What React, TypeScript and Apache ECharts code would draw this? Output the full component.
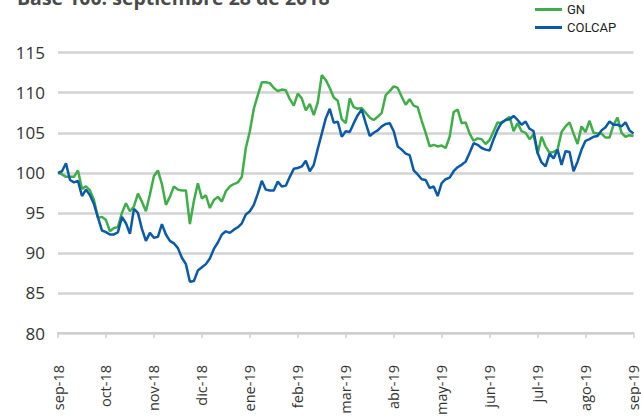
import React, { useEffect, useRef } from "react";
import * as echarts from "echarts";

const monthLabels = ["sep-18", "oct-18", "nov-18", "dic-18", "ene-19", "feb-19", "mar-19", "abr-19", "may-19", "jun-19", "jul-19", "ago-19", "sep-19"];
const pointsPerMonth = 12;

const gnValues = [
  100, 99.8, 99.5, 99.5, 99.5, 100.3, 98.0, 98.3, 97.8, 96.6,
  94.4, 94.5, 94.1, 92.7, 93.1, 93.25, 95.0, 96.2, 95.2, 95.8,
  97.4, 96.4, 95.2, 97.3, 99.6, 100.3, 98.6, 96.0, 97.0, 98.3,
  97.9, 97.8, 97.8, 93.6, 96.5, 98.7, 96.8, 97.2, 95.6, 96.6,
  97.0, 96.4, 97.7, 98.3, 98.6, 98.8, 99.5, 103.1, 105.2, 108.0,
  109.7, 111.3, 111.3, 111.2, 110.6, 110.2, 110.4, 110.3, 109.2, 108.4,
  109.9, 109.3, 107.8, 108.6, 107.2, 108.8, 112.2, 111.6, 110.6, 109.4,
  109.0, 106.7, 106.2, 109.3, 108.2, 108.0, 108.1, 107.5, 106.9, 106.6,
  107.0, 107.5, 109.7, 110.2, 110.8, 110.6, 109.5, 108.5, 109.2, 108.4,
  108.2, 106.5, 105.0, 103.3, 103.5, 103.3, 103.4, 103.1, 104.5, 107.6,
  107.9, 106.2, 106.3, 104.9, 104.0, 104.3, 104.2, 103.6, 104.1, 105.2,
  106.3, 106.2, 106.6, 107.0, 105.2, 106.2, 105.2, 105.0, 104.2, 104.8,
  102.4, 104.5, 103.3, 102.5, 102.6, 102.9, 105.1, 105.8, 106.3, 104.9,
  103.6, 105.8, 105.1, 106.5, 105.0, 104.9, 104.9, 104.4, 104.4, 106.0,
  106.9, 105.0, 104.5, 104.7, 104.6
];

const colcapValues = [
  100, 100.2, 101.2, 99.1, 98.8, 99.0, 97.1, 97.9, 97.2, 96.1,
  94.4, 92.8, 92.6, 92.3, 92.3, 92.6, 94.5, 93.7, 92.4, 95.5,
  95.0, 93.0, 91.5, 92.5, 91.9, 92.0, 93.6, 92.3, 91.5, 91.2,
  90.6, 89.4, 88.6, 86.4, 86.5, 87.8, 88.2, 88.6, 89.3, 90.5,
  91.3, 92.3, 92.7, 92.5, 92.9, 93.2, 93.7, 94.8, 95.2, 96.0,
  97.4, 99.0, 97.9, 97.8, 97.8, 98.9, 98.3, 98.4, 99.5, 100.5,
  100.6, 100.8, 101.5, 100.2, 101.0, 103.0, 104.9, 106.8, 108.0, 106.25,
  106.4, 104.5, 105.2, 105.1, 106.2, 107.2, 107.9, 106.2, 104.6, 105.0,
  105.3, 105.8, 106.1, 106.2, 105.2, 103.3, 102.9, 102.4, 102.2, 100.3,
  99.8, 99.2, 99.1, 98.1, 98.3, 97.1, 98.7, 99.2, 99.4, 100.2,
  100.7, 101.0, 101.4, 102.5, 103.7, 103.5, 103.1, 102.9, 102.8, 104.2,
  105.4, 106.3, 106.6, 106.7, 107.1, 106.6, 106.0, 106.4, 105.5, 105.2,
  102.5, 101.3, 100.8, 102.4, 101.8, 102.9, 101.0, 102.7, 102.6, 100.2,
  101.4, 102.9, 104.0, 104.2, 104.5, 104.6, 105.3, 105.7, 106.4, 106.0,
  106.0, 105.8, 106.3, 105.3, 104.9
];

const yTicks = [80, 85, 90, 95, 100, 105, 110, 115];
const seriesNames = ["GN", "COLCAP"];
const titleText = "Base 100: septiembre 28 de 2018";

export default function App() {
  const ref = useRef<HTMLDivElement>(null);
  useEffect(() => {
    if (!ref.current) return;
    const chart = echarts.init(ref.current, null, { renderer: "svg" });
    const n = Math.max(gnValues.length, colcapValues.length);
    const categories = Array.from({ length: n }, (_, i) =>
      i % pointsPerMonth === 0 ? monthLabels[i / pointsPerMonth] ?? "" : ""
    );
    chart.setOption({
      animation: false,
      graphic: [
        {
          type: "text",
          x: 17,
          y: 7,
          style: {
            text: titleText,
            font: 'bold 19.5px "Open Sans"',
            fill: "#4a4a4a",
            verticalAlign: "bottom",
          },
        },
      ],
      legend: {
        orient: "vertical",
        left: 530,
        top: -2,
        itemWidth: 27,
        itemHeight: 3,
        itemGap: 5,
        icon: "rect",
        textStyle: {
          fontFamily: '"Liberation Sans Narrow", "Roboto"',
          fontSize: 13,
          color: "#222",
          lineHeight: 13,
        },
        data: seriesNames,
      },
      grid: { left: 58, right: -1, top: 52.7, bottom: 86 },
      xAxis: {
        type: "category",
        data: categories,
        boundaryGap: false,
        axisLine: { lineStyle: { color: "#cfcfcf", width: 2 } },
        axisTick: { show: true, interval: pointsPerMonth - 1, length: 5, lineStyle: { color: "#cfcfcf", width: 1.5 } },
        axisLabel: {
          interval: pointsPerMonth - 1,
          rotate: 90,
          margin: 32,
          fontFamily: '"Open Sans"',
          fontSize: 14.5,
          color: "#333",
        },
        splitLine: { show: false },
      },
      yAxis: {
        type: "value",
        min: yTicks[0],
        max: yTicks[yTicks.length - 1],
        interval: 5,
        axisLine: { show: false },
        axisTick: { show: false },
        axisLabel: { fontFamily: '"Open Sans"', fontSize: 17, color: "#333", margin: 13 },
        splitLine: { lineStyle: { color: "#d3d3d3", width: 2.5 } },
      },
      series: [
        {
          name: seriesNames[0],
          type: "line",
          data: gnValues,
          symbol: "none",
          lineStyle: { color: "#3fae49", width: 2.5 },
          itemStyle: { color: "#3fae49" },
        },
        {
          name: seriesNames[1],
          type: "line",
          data: colcapValues,
          symbol: "none",
          lineStyle: { color: "#0a5aa8", width: 2.5 },
          itemStyle: { color: "#0a5aa8" },
        },
      ],
    });
    return () => chart.dispose();
  }, []);
  return (
    <div
      ref={ref}
      style={{ position: "absolute", left: 0, top: 0, width: 641, height: 419, overflow: "hidden" }}
    />
  );
}
